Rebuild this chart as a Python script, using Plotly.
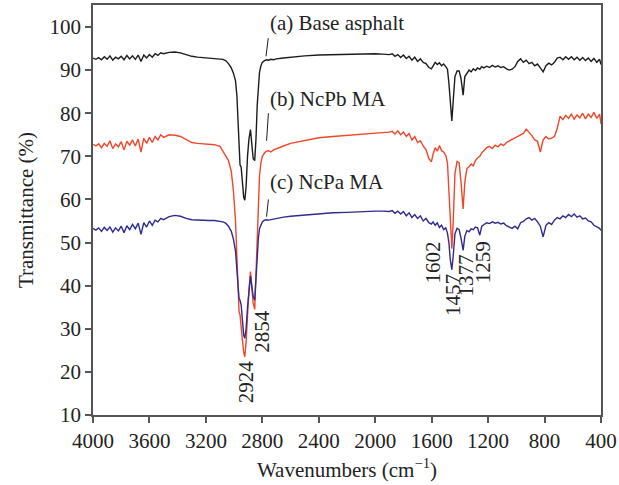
import plotly.graph_objects as go

wavenumber = [
    4000, 3980, 3960, 3940, 3920, 3900, 3880, 3860, 3840, 3820, 3800, 3780, 3760, 3740, 3720, 3700, 3680, 3660, 3640, 3620, 3600, 3580, 3560, 3540, 3520, 3500,
    3460, 3420, 3380, 3340, 3300, 3260, 3220, 3180, 3140, 3100,
    3080, 3060, 3040, 3020, 3005, 2990, 2980, 2972, 2965, 2958, 2950, 2940, 2932, 2924, 2915, 2905, 2895, 2884, 2875, 2865, 2854, 2845, 2836, 2828, 2820, 2810, 2800, 2785, 2770, 2755, 2740, 2720, 2700,
    2650, 2600, 2500, 2400, 2300, 2200, 2100, 2000, 1950, 1900,
    1880, 1860, 1840, 1820, 1800, 1780, 1760, 1740, 1720, 1700, 1680, 1660, 1640,
    1620, 1602, 1590, 1575, 1560, 1545, 1530, 1515, 1500, 1488, 1478, 1468, 1457, 1447, 1435, 1420, 1405, 1392, 1377, 1365, 1350, 1335, 1320, 1305, 1290, 1275, 1259, 1245,
    1230, 1210, 1190, 1170, 1150, 1130, 1110, 1090, 1070, 1050, 1030, 1010, 990, 970, 950, 930, 910, 890, 870, 850, 830, 810, 790, 770, 750, 730, 710, 690, 670, 650, 630, 610, 590, 570, 550, 530, 510, 490, 470, 450, 430, 410, 400,
]

base_asphalt = [
    92.8, 92.5, 92.9, 92.4, 93.1, 92.5, 93.3, 92.3, 93.0, 92.6, 93.2, 92.4, 93.4, 92.6, 93.3, 92.5, 93.5, 92.0, 93.5, 92.8, 93.6, 93.0, 93.8, 93.4, 94.0, 93.8,
    94.1, 94.2, 94.0, 93.6, 93.2, 93.0, 92.9, 92.9, 92.8, 92.7,
    92.5, 92.2, 91.5, 90.5, 89.3, 87.5, 84.0, 78.0, 70.0, 68.0, 67.5, 63.0, 60.5, 59.8, 63.0, 70.0, 74.0, 76.2, 72.0, 69.5, 69.0, 74.0, 82.0, 87.0, 89.5, 91.0, 91.8, 92.2, 92.4, 92.3, 92.5, 92.4, 92.6,
    92.8, 93.0, 93.3, 93.5, 93.6, 93.7, 93.7, 93.8, 93.7, 93.6,
    93.8, 93.2, 93.6, 92.9, 93.5, 92.7, 93.2, 92.3, 93.0, 92.0, 92.6, 91.8, 91.5,
    90.6, 90.3, 91.0, 91.8, 91.3, 91.7, 91.0, 91.4, 90.8, 90.2, 87.0, 82.0, 78.2, 83.0, 88.5, 89.8, 89.8, 88.0, 84.2, 88.5, 89.3, 90.0, 89.6, 90.3, 89.9, 90.5, 90.2, 90.8,
    90.5, 90.9, 90.6, 91.1, 90.7, 91.0, 90.6, 90.8, 90.3, 90.0, 90.2, 90.8, 92.0, 92.6, 91.8, 92.3, 91.5, 91.8, 91.0, 91.4, 90.5, 89.6, 91.0, 91.6, 91.2, 91.8, 92.8, 93.0, 92.4, 93.1, 92.5, 93.1, 92.4, 93.0, 92.3, 92.9, 92.2, 92.8, 92.0, 92.7, 91.8, 92.5, 91.3,
]

ncpb_ma = [
    72.8, 72.4, 72.9, 72.0, 73.0, 72.3, 73.6, 71.8, 72.9, 72.2, 73.4, 71.5, 73.5, 72.6, 73.8, 72.4, 74.0, 71.0, 74.2, 73.0, 74.4, 73.2, 74.6, 73.8, 75.0, 74.4,
    75.0, 74.9, 74.6, 73.8, 73.2, 73.0, 72.9, 72.8, 72.7, 72.3,
    71.2, 69.8, 69.0, 66.5, 62.0, 55.0, 45.0, 38.0, 34.0, 33.2, 31.0, 27.0, 24.5, 23.5, 27.0, 34.0, 39.0, 43.3, 40.0, 36.0, 34.5, 42.0, 52.0, 60.0, 65.5, 68.5, 70.0, 70.8, 71.2, 71.3, 71.0, 71.5, 71.8,
    72.4, 73.0, 73.7, 74.3, 74.6, 74.9, 75.2, 75.4, 75.5, 75.6,
    75.8, 75.2, 75.9, 75.0, 75.6, 74.6, 75.3, 73.8, 74.6, 73.2, 73.6, 72.4, 71.5,
    69.5, 68.7, 70.5, 72.0, 71.2, 72.5, 71.3, 71.0, 70.2, 68.5, 62.0, 54.0, 48.6, 55.0, 66.0, 68.8, 68.5, 64.0, 57.8, 64.0, 67.2, 67.6, 68.2, 67.8, 69.0, 69.6, 70.0, 70.8,
    71.4, 72.0, 72.3, 71.8, 72.6, 72.2, 72.9, 72.5, 73.2, 73.6, 73.9, 74.3, 74.6, 75.0, 75.3, 76.3, 75.6, 74.8, 73.8, 73.5, 71.0, 73.8, 74.6, 74.0, 74.2, 74.6, 76.5, 79.3, 78.5, 79.5, 78.8, 79.8, 78.6, 79.6, 78.9, 80.0, 78.7, 79.8, 79.0, 80.2, 78.8, 79.8, 77.5,
]

ncpa_ma = [
    53.3, 52.9, 53.4, 52.6, 53.5, 52.8, 53.6, 52.4, 53.4, 52.7, 53.8, 52.3, 53.9, 53.0, 54.2, 53.2, 54.5, 51.9, 54.6, 53.6, 55.0, 54.0, 55.2, 54.8, 55.6, 55.3,
    56.0, 56.3, 56.1, 55.6, 55.3, 55.2, 55.1, 55.1, 55.1, 55.0,
    54.8, 54.5, 53.8, 52.6, 50.8, 48.0, 44.5, 40.0, 37.0, 36.6, 35.5, 31.0, 28.5, 27.8, 30.0, 35.0, 39.0, 42.2, 40.0, 37.5, 36.6, 42.0, 47.5, 51.0, 53.2, 54.3, 54.8, 55.2, 55.3, 55.2, 55.3, 55.5, 55.6,
    55.9, 56.1, 56.4, 56.6, 56.9, 57.0, 57.2, 57.3, 57.3, 57.2,
    57.4, 56.8, 57.3, 56.6, 57.2, 56.2, 56.9, 55.8, 56.5, 55.6, 56.2, 55.0, 55.6,
    54.6, 54.3, 54.8, 54.0, 54.6, 53.5, 54.0, 53.0, 53.4, 52.2, 50.0, 46.0, 43.7, 47.0, 52.0, 53.3, 53.0, 51.0, 48.2, 51.5, 52.8, 52.5, 53.2, 53.0, 53.6, 53.4, 51.7, 53.8,
    54.2, 54.6, 54.4, 54.8, 54.5, 54.7, 54.3, 54.5, 53.9, 53.6, 53.3, 53.8, 53.2, 54.6, 54.9, 55.5, 55.8, 55.2, 55.6, 54.8, 53.8, 51.3, 54.0, 54.6, 54.2, 55.2, 55.8, 55.5, 56.2, 55.8, 56.5, 56.0, 56.6, 55.9, 56.2, 55.5, 55.7, 55.0, 54.8, 54.0, 53.6, 53.3, 52.8,
]

series_names = ["(a) Base asphalt", "(b) NcPb MA", "(c) NcPa MA"]
series_colors = ["#1c1c1c", "#f0462a", "#2e2b8e"]
label_x = [2760, 2760, 2760]
label_y = [100.9, 83.4, 64.0]
leader_x0 = [2774, 2770, 2770]
leader_y0 = [93.2, 73.6, 56.0]
leader_x1 = [2758, 2757, 2757]
leader_y1 = [97.4, 80.0, 60.0]

peak_labels = ["2924", "2854", "1602", "1457", "1377", "1259"]
peak_label_x = [2916, 2802, 1590, 1449, 1355, 1237]
peak_label_y = [17.8, 29.3, 45.4, 37.8, 42.4, 45.4]

x_ticks = [4000, 3600, 3200, 2800, 2400, 2000, 1600, 1200, 800, 400]
y_ticks = [10, 20, 30, 40, 50, 60, 70, 80, 90, 100]

FONT = "Liberation Serif"
FS = 21
TXT = "#222222"
fig = go.Figure()
for name, ys, col in zip(series_names, [base_asphalt, ncpb_ma, ncpa_ma], series_colors):
    fig.add_trace(go.Scatter(x=wavenumber, y=ys, mode="lines", name=name,
                             line=dict(color=col, width=1.4), showlegend=False))

for i in range(3):
    fig.add_trace(go.Scatter(x=[leader_x0[i], leader_x1[i]], y=[leader_y0[i], leader_y1[i]],
                             mode="lines", line=dict(color="#1c1c1c", width=1), showlegend=False,
                             hoverinfo="skip"))
    fig.add_annotation(x=label_x[i], y=label_y[i], text=series_names[i], showarrow=False,
                       xanchor="left", yanchor="middle",
                       font=dict(family=FONT, size=FS, color=TXT))

for t, px, py in zip(peak_labels, peak_label_x, peak_label_y):
    fig.add_annotation(x=px, y=py, text=t, showarrow=False, textangle=-90,
                       xanchor="center", yanchor="middle",
                       font=dict(family=FONT, size=FS, color=TXT))

axis_common = dict(showline=True, linecolor="#555", linewidth=1.5, mirror=True,
                   ticks="outside", ticklen=6, tickcolor="#555", tickwidth=1.5,
                   showgrid=False, zeroline=False,
                   tickfont=dict(family=FONT, size=FS, color=TXT))

fig.update_layout(
    width=619, height=485,
    margin=dict(l=93, r=18, t=5, b=70, autoexpand=False),
    paper_bgcolor="white", plot_bgcolor="white",
    xaxis=dict(range=[4000, 400], tickvals=x_ticks, ticktext=[str(v) for v in x_ticks],
               title=dict(text="Wavenumbers (cm<sup>−1</sup>)", font=dict(family=FONT, size=FS, color=TXT), standoff=10),
               **axis_common),
    yaxis=dict(range=[10, 105.1], tickvals=y_ticks,
               title=dict(text="Transmittance (%)", font=dict(family=FONT, size=FS, color=TXT), standoff=10),
               **axis_common),
)

fig.write_html("out.html", config={"displayModeBar": False},
               post_script="document.body.style.margin='0px';")
